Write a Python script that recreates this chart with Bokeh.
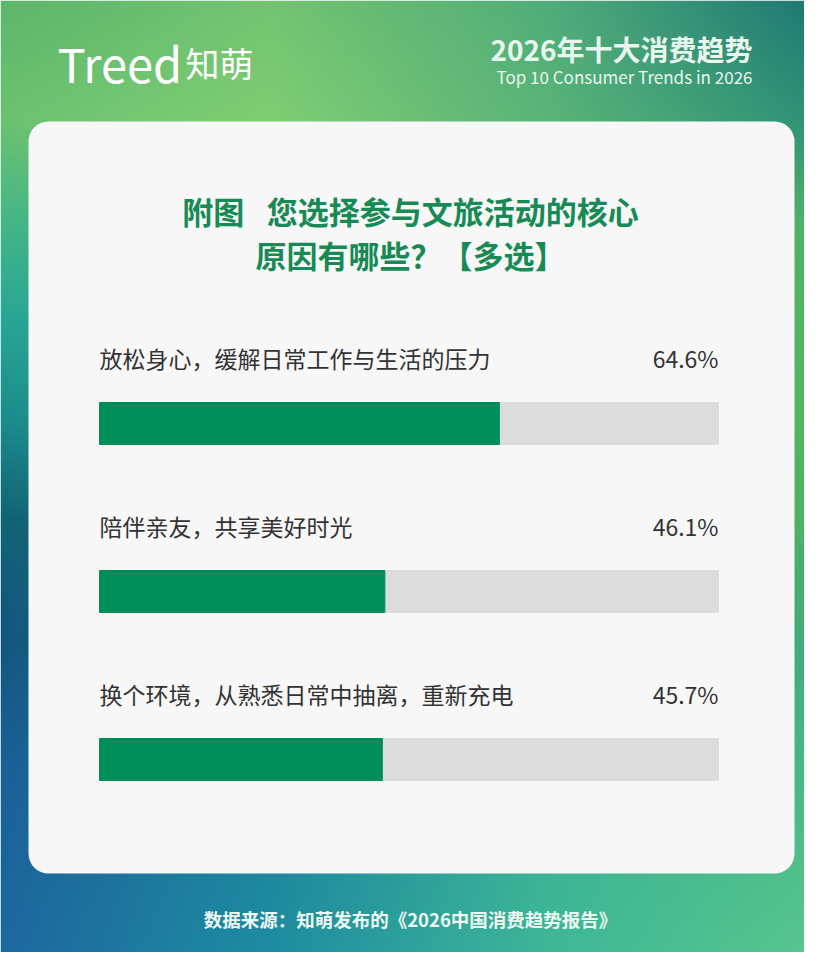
import numpy as np
from bokeh.plotting import figure
from bokeh.models import Range1d, BoxAnnotation
from bokeh.core.properties import value
from bokeh.embed import file_html
from bokeh.resources import INLINE

# ---------------- data ----------------
categories = [
    "放松身心，缓解日常工作与生活的压力",
    "陪伴亲友，共享美好时光",
    "换个环境，从熟悉日常中抽离，重新充电",
]
shares = [64.6, 46.1, 45.7]
scale_max = 100

title_lines = ["附图\u2002 您选择参与文旅活动的核心", "原因有哪些？【多选】"]
header_cn = "2026年十大消费趋势"
header_en = "Top 10 Consumer Trends in 2026"
source_note = "数据来源：知萌发布的《2026中国消费趋势报告》"

# ---------------- layout helpers ----------------
H = 968
PW, PH = 804, 952
FONT = "Noto Sans CJK SC"
GREEN = "#008f5a"
TRACK = "#dcdcdc"
TITLE_GREEN = "#178a55"


def Y(py):
    return H - py


p = figure(width=PW, height=PH, x_range=Range1d(0, PW), y_range=Range1d(H - PH, H),
           x_axis_type=None, y_axis_type=None, toolbar_location=None,
           output_backend="svg", min_border=0, outline_line_color=None)
p.grid.visible = False
p.background_fill_color = "#ffffff"
p.border_fill_color = "#ffffff"

# ---------------- gradient background ----------------
xs_ctrl = np.array([0, 270, 550, 820], dtype=float)
ys_ctrl = np.array([0, 120, 220, 320, 420, 520, 640, 760, 968], dtype=float)
left_col = [(92, 182, 108), (108, 194, 112), (70, 182, 135), (40, 165, 150), (28, 140, 140),
            (16, 98, 118), (20, 86, 128), (25, 96, 150), (30, 105, 160)]
right_col = [(28, 118, 116), (45, 145, 118), (78, 178, 104), (82, 182, 96), (84, 184, 92),
             (78, 180, 100), (66, 176, 122), (72, 184, 132), (92, 200, 142)]
grid = np.zeros((len(ys_ctrl), 4, 3))
for r in range(len(ys_ctrl)):
    l = np.array(left_col[r], float)
    rr = np.array(right_col[r], float)
    grid[r, 0] = l
    grid[r, 3] = rr
    grid[r, 1] = l + (rr - l) * 270 / 820
    grid[r, 2] = l + (rr - l) * 550 / 820
grid[0, 1] = (115, 196, 112); grid[0, 2] = (80, 172, 122)
grid[1, 1] = (128, 206, 116); grid[1, 2] = (90, 180, 120)
grid[7, 1] = (30, 130, 155); grid[7, 2] = (60, 178, 145)
grid[8, 1] = (30, 142, 162); grid[8, 2] = (62, 184, 152)

px_y = np.arange(0, PH) + 0.5
px_x = np.arange(0, PW) + 0.5
colvals = np.zeros((len(px_y), 4, 3))
for c in range(4):
    for ch in range(3):
        colvals[:, c, ch] = np.interp(px_y, ys_ctrl, grid[:, c, ch])
rgb = np.zeros((len(px_y), len(px_x), 3))
for i in range(len(px_y)):
    for ch in range(3):
        rgb[i, :, ch] = np.interp(px_x, xs_ctrl, colvals[i, :, ch])
img = np.empty((len(px_y), len(px_x)), dtype=np.uint32)
view = img.view(dtype=np.uint8).reshape((len(px_y), len(px_x), 4))
view[..., 0] = np.clip(rgb[..., 0], 0, 255).astype(np.uint8)
view[..., 1] = np.clip(rgb[..., 1], 0, 255).astype(np.uint8)
view[..., 2] = np.clip(rgb[..., 2], 0, 255).astype(np.uint8)
view[..., 3] = 255
img = np.ascontiguousarray(img[::-1])
bg = p.image_rgba(image=[img], x=0, y=H - PH, dw=PW, dh=PH)
bg.level = "image"

# ---------------- card ----------------
card = BoxAnnotation(left=28, right=794, bottom=Y(873), top=Y(121),
                     fill_color="#f7f7f7", fill_alpha=1.0, line_alpha=0,
                     border_radius=20, level="underlay")
p.add_layout(card)

# ---------------- header ----------------
p.text(x=[57], y=[Y(62)], text=["Treed"], text_font=value(FONT), text_font_size="47px",
       text_color="white", text_baseline="middle", text_align="left")
p.text(x=[185], y=[Y(62)], text=["知萌"], text_font=value(FONT), text_font_size="34px",
       text_color="white", text_baseline="middle", text_align="left")
p.text(x=[752], y=[Y(48)], text=[header_cn], text_font=value(FONT), text_font_size="28px",
       text_font_style="bold", text_color="#e8f6ee", text_baseline="middle", text_align="right")
p.text(x=[752], y=[Y(76)], text=[header_en], text_font=value(FONT), text_font_size="17px",
       text_color="#e8f6ee", text_baseline="middle", text_align="right")

# ---------------- title ----------------
p.text(x=[410, 410], y=[Y(210), Y(254)], text=title_lines, text_font=value(FONT),
       text_font_size="31px", text_font_style="bold", text_color=TITLE_GREEN,
       text_baseline="middle", text_align="center")

# ---------------- bars ----------------
p.extra_x_ranges["pct"] = Range1d(start=(0 - 99) / 6.19, end=(PW - 99) / 6.19)

n = len(categories)
bar_y = [Y(423 + 168 * i) for i in range(n)]
label_y = [Y(357 + 168 * i) for i in range(n)]

p.hbar(y=bar_y, height=42, left=0, right=[scale_max] * n, color=TRACK, x_range_name="pct")
p.hbar(y=bar_y, height=42, left=0, right=shares, color=GREEN, x_range_name="pct")

p.text(x=[0] * n, y=label_y, text=categories, x_range_name="pct", text_font=value(FONT),
       text_font_size="23px", text_color="#333333", text_baseline="middle", text_align="left")
p.text(x=[scale_max] * n, y=label_y, text=[f"{v:.1f}%" for v in shares], x_range_name="pct",
       text_font=value(FONT), text_font_size="23px", text_color="#333333",
       text_baseline="middle", text_align="right")

# ---------------- footer ----------------
p.text(x=[410], y=[Y(918)], text=[source_note], text_font=value(FONT), text_font_size="18.5px",
       text_font_style="bold", text_color="#eef8f3", text_baseline="middle", text_align="center")

open("out.html", "w").write(file_html(p, INLINE))
